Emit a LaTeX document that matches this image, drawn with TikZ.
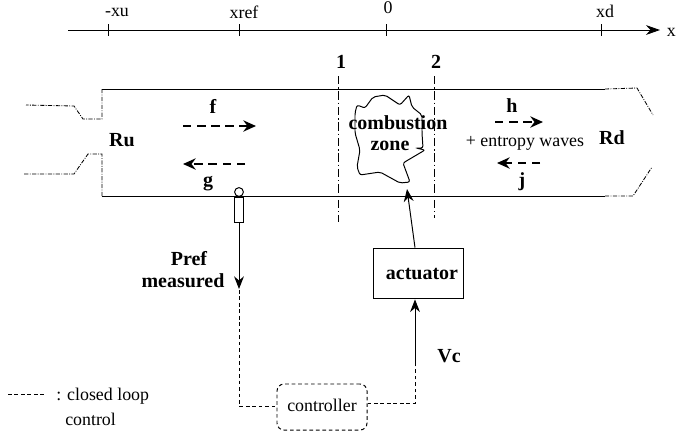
\documentclass[tikz,border=0pt]{standalone}
\usepackage{fontspec}
\setmainfont{Liberation Serif}
\usetikzlibrary{arrows.meta}
\tikzset{
  duct/.style={line width=.7pt},
  ductend/.style={line width=.6pt, densely dash dot},
  section/.style={line width=.6pt, dash pattern=on 6pt off 2pt on 1pt off 2pt},
  wave/.style={line width=1.6pt, dash pattern=on 6pt off 4pt, -{Stealth[length=9pt,width=8pt]}},
  loopline/.style={line width=.7pt, dash pattern=on 2.6pt off 2pt},
  signal/.style={line width=.7pt, -{Stealth[length=9pt,width=7pt]}},
  lab/.style={font=\fontsize{14.2}{16}\selectfont\bfseries, inner sep=0pt},
  plain/.style={font=\fontsize{12.7}{15}\selectfont, inner sep=0pt},
}

\begin{document}
\begin{tikzpicture}[x=0.025cm, y=-0.025cm]
  \useasboundingbox (0,0) rectangle (676,437);

  % Define points
  \coordinate (axisL) at (68,30);
  \coordinate (axisR) at (660,30);
  \coordinate (TL) at (102,89);
  \coordinate (TM) at (605,89);
  \coordinate (TR) at (637,88);
  \coordinate (BL) at (102,196);
  \coordinate (BM) at (605,196);
  \coordinate (BR) at (633,196);
  \coordinate (corner) at (239,406);
  \coordinate (turn) at (415,403);
  \coordinate (solidstart) at (415,365);
  \coordinate (flametip) at (407,189);
  \coordinate (legendL) at (8,394);
  \coordinate (legendR) at (45,394);

  % Define nodes
  \node[plain] (xu) at (117,12) {-xu};
  \node[plain] (xref) at (244,12) {xref};
  \node[plain] (zero) at (388,8) {0};
  \node[plain] (xd) at (605,11) {xd};
  \node[plain, anchor=east] (xaxis) at (676,32) {x};
  \node[lab] (one) at (341,62) {1};
  \node[lab] (two) at (436,62) {2};
  \node[lab] (Ru) at (122,140) {Ru};
  \node[lab] (Rd) at (612,138) {Rd};
  \node[lab] (f) at (213,106) {f};
  \node[lab] (g) at (208,184) {g};
  \node[lab] (h) at (512,106) {h};
  \node[lab] (j) at (522,182) {j};
  \node[plain] (entropy) at (525,143) {+ entropy waves};
  \node[lab] (Pref) at (189,259) {Pref};
  \node[lab] (measured) at (183,281) {measured};
  \node[lab] (Vc) at (449,356) {Vc};
  \node[draw, line width=.7pt, minimum width=2.25cm, minimum height=1.27cm, inner sep=0pt] (actuator) at (418,273.5) {};
  \node[lab] (actuatorlab) at (422,274) {actuator};
  \node[draw, loopline, rounded corners=5pt, minimum width=2.25cm, minimum height=1.15cm, inner sep=0pt] (controller) at (322,407) {};
  \node[plain] (controllerlab) at (322,405) {controller};
  \node[plain, anchor=west] (legend1) at (56,396) {: closed loop};
  \node[plain, anchor=west] (legend2) at (65,419) {control};
  \node[draw, circle, line width=.7pt, minimum size=.22cm, inner sep=0pt] (probe) at (239,192) {};
  \node[draw, line width=.7pt, minimum width=.23cm, minimum height=.62cm, inner sep=0pt, anchor=north] (sensor) at (239,197) {};

  % Draw axis
  \draw[line width=.7pt, -{Stealth[length=10pt,width=7pt]}] (axisL) -- (axisR);
  \foreach \tickx in {108,239,386,601}
    \draw[line width=.6pt] (\tickx,24) -- (\tickx,36);

  % Draw duct
  \draw[duct] (TL) -- (TM);
  \draw[duct] (BL) -- (BM);
  \draw[ductend] (TM) -- (TR) -- (653,115);
  \draw[ductend] (BM) -- (BR) -- (652,167);
  \draw[ductend] (TL) -- (102,119) -- (83,119) -- (74,106) -- (26,105);
  \draw[ductend] (BL) -- (102,154) -- (88,154) -- (74,174) -- (24,174);
  \draw[section] (338,76) -- (338,222);
  \draw[section] (434,76) -- (434,218);

  % Draw flame
  \draw[line width=.7pt, rounded corners=1.5pt] (357,105) -- (365,108) -- (373,97) -- (385,95) -- (400,105) -- (409,95)
    -- (412,107) -- (422,115) -- (422,133) -- (423,148) -- (416,148) -- (425,150) -- (403,163) -- (410,182) -- (400,183)
    -- (380,172) -- (360,175) -- (357,167) -- (360,150) -- (355,133) -- (355,113) -- cycle;
  \node[lab] (combustion) at (398,123) {combustion};
  \node[lab] (zone) at (390,146) {zone};

  % Draw waves
  \draw[wave] (183,126) -- (256,126);
  \draw[wave] (245,164) -- (183,164);
  \draw[wave] (495,122) -- (543,122);
  \draw[wave] (540,163) -- (497,163);

  % Draw loop
  \draw[signal] (sensor.south) -- (239,289);
  \draw[loopline] (239,290) -- (corner) -- (controller.west |- corner);
  \draw[loopline] (controller.east |- turn) -- (turn) -- (solidstart);
  \draw[signal] (solidstart) -- (turn |- actuator.south);
  \draw[signal] (actuator.north -| turn) -- (flametip);
  \draw[loopline] (legendL) -- (legendR);
\end{tikzpicture}
\end{document}
